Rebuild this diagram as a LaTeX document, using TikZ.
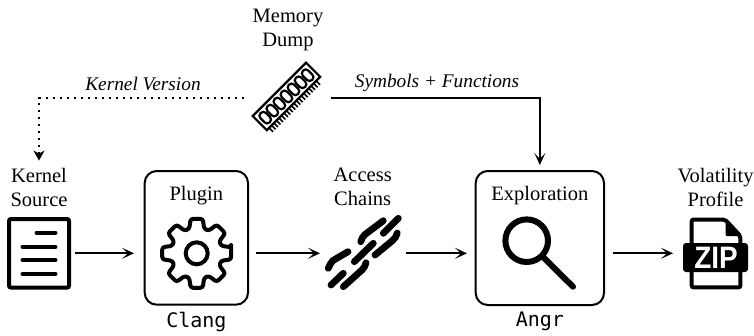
\documentclass[tikz,border=0pt]{standalone}
\usepackage{fontspec}
\setmainfont{Liberation Serif}
\setmonofont{DejaVu Sans Mono}
\newfontfamily\zipfont{Liberation Sans}
\usetikzlibrary{arrows.meta,calc}
\tikzset{
  x=1pt,y=-1pt,
  lbl/.style={font=\fontsize{20.5}{24}\selectfont,align=center,inner sep=0pt},
  edgelbl/.style={font=\fontsize{19.3}{24}\selectfont\itshape,inner sep=0pt,anchor=base},
  toollbl/.style={font=\fontsize{20}{24}\selectfont\ttfamily,inner sep=0pt,anchor=base},
  stagebox/.style={draw,line width=2pt,rounded corners=12pt,inner sep=0pt,outer sep=0pt},
  holder/.style={inner sep=0pt,outer sep=0pt},
  arr/.style={line width=2pt,-{Stealth[length=12pt,width=11pt,inset=6pt]}},
  dotarr/.style={line width=2pt,dash pattern=on 2pt off 5pt,-{Stealth[length=10pt,width=11pt,inset=3pt]}},
  link/.style={line width=6.8pt,line cap=round},
  bar/.style={line width=4pt,line cap=round},
}
\begin{document}
\begin{tikzpicture}
\path[use as bounding box] (0,0) rectangle (754,335);

% labels
\node[lbl] (memlbl) at (288,29.5) {Memory\\Dump};
\node[lbl] (srclbl) at (39,187) {Kernel\\Source};
\node[lbl] (acclbl) at (362.7,187) {Access\\Chains};
\node[lbl] (vollbl) at (715.5,187) {Volatility\\Profile};

% boxes
\node[stagebox,minimum width=103.3pt,minimum height=133.7pt] (plugin) at (196.35,237.85) {};
\node[stagebox,minimum width=128.3pt,minimum height=134pt] (explore) at (539.85,238) {};
\node[lbl,anchor=base] (pluginlbl) at (196.35,200) {Plugin};
\node[lbl,anchor=base] (explorelbl) at (539.85,200) {Exploration};
\node[toollbl] (clang) at (196.35,327) {Clang};
\node[toollbl] (angr) at (539.85,326) {Angr};

% document icon
\node[draw,line width=4pt,rounded corners=2pt,minimum width=60pt,minimum height=68.6pt,holder] (doc) at (39,253.3) {};
\draw[bar] (36.5,232.7) -- (55.5,232.7);
\draw[bar] (22.5,246.7) -- (55.5,246.7);
\draw[bar] (22.5,260) -- (55.5,260);
\draw[bar] (22.5,273.7) -- (55.5,273.7);

% gear icon
\begin{scope}[shift={(196.7,253.3)}]
  \draw[line width=4pt,rounded corners=2.5pt,line join=round]
    (-10:35) \foreach \a in {0,45,...,315} {
      -- ($(\a-10:35)$) -- ($(\a+10:35)$) -- ($(\a+17:25.5)$) -- ($(\a+28:25.5)$)
    } -- cycle;
  \draw[line width=4pt] (0,0) circle (11);
\end{scope}

% chain icon
\node[holder,minimum width=86pt,minimum height=72pt] (chain) at (363,253.3) {};
\draw[link] (360.7,241.7) .. controls (361.5,238.5) and (363,236.5) .. (365,234.5) -- (383.3,220.7);
\draw[link] (383.3,233.3) -- (398.3,218.3);
\draw[link] (375,255) -- (392,241) .. controls (394.5,239) and (396.5,236.5) .. (397.3,233);
\draw[link] (354.3,261.7) -- (373.3,243.3);
\draw[link] (328.3,268.3) .. controls (329.5,265) and (331,262.5) .. (333,260.5) -- (348,251.7);
\draw[link] (331,285) -- (343.3,273.3);
\draw[link] (343.3,286.7) -- (362,270) .. controls (364,268) and (365.5,265.5) .. (366,262.7);

% magnifier icon
\draw[line width=6pt] (526.7,240.7) circle (21.3);
\draw[line width=6pt,line cap=round] (542,256) -- (573,286.7);

% zip icon
\node[holder,minimum width=85pt,minimum height=72pt] (zip) at (715.5,253.3) {};
\draw[line width=4pt,rounded corners=2pt] (691.7,219.5) -- (725,219.5) -- (740.4,236) -- (740.4,287.4) -- (691.7,287.4) -- cycle;
\fill[rounded corners=1pt] (725.5,219.5) -- (740.4,236) -- (725.5,236) -- cycle;
\fill[rounded corners=3pt] (683,243) rectangle (748,272);
\node[text=white,font=\fontsize{31}{31}\selectfont\zipfont\bfseries,inner sep=0pt,xscale=.9] (ziptext) at (716,257.5) {ZIP};

% RAM icon
\node[holder,minimum width=85pt,minimum height=20pt] (ram) at (288,97.5) {};
\begin{scope}[shift={(279.35,89.35)},rotate=45]
  \draw[line width=2.2pt] (-37.7,0) rectangle (37.7,20);
  \foreach \c in {-30,-20,...,30}
    \draw[line width=2.2pt,rounded corners=3.6pt] (\c-3.8,3.5) rectangle (\c+3.8,16.5);
  \foreach \p in {-34.5,-31,...,35}
    \draw[line width=1.6pt] (\p,20) -- (\p,25.5);
\end{scope}

% connectors
\draw[arr,shorten <=6pt,shorten >=0pt] (doc.east) -- ($(doc.east -| plugin.west)+(-10.7,0)$);
\draw[arr,shorten <=7.7pt] (plugin.east |- chain.west) -- (chain.west);
\draw[arr,shorten >=8.7pt] (chain.east) -- (chain.east -| explore.west);
\draw[arr,shorten <=9pt] (explore.east |- zip.west) -- (zip.west);
\draw[arr,shorten >=6pt] (ram.east) -| (explore.north);
\draw[dotarr,shorten <=2pt,shorten >=7pt] (ram.west) -| (srclbl.north);

% connector labels
\node[edgelbl] (kv) at (143,90.7) {Kernel Version};
\node[edgelbl] (sf) at (437,87) {Symbols + Functions};
\end{tikzpicture}
\end{document}
